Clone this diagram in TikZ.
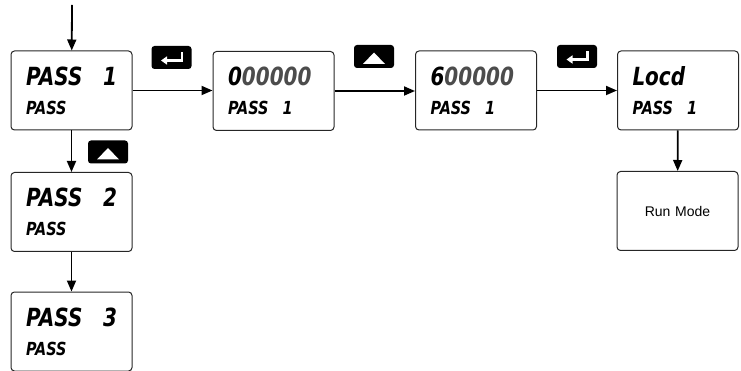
\documentclass[tikz,border=0pt]{standalone}
\usepackage{xcolor}
\usepackage{fontspec}
\setmainfont{Liberation Sans}
\newfontfamily\lcdfont{DejaVu Sans}[FakeStretch=0.8]
\usepackage{tikz}
\usetikzlibrary{arrows.meta, positioning, calc}

\newcommand{\lcdbig}{\lcdfont\bfseries\itshape\fontsize{25}{29}\selectfont}
\newcommand{\lcdsmall}{\lcdfont\bfseries\itshape\fontsize{18}{29}\selectfont}
\definecolor{segoff}{gray}{0.3}

\tikzset{
    screen/.style={draw=black!85, line width=1pt, rounded corners=3.5pt,
        minimum width=121pt, minimum height=79pt, text width=91pt,
        align=left, inner sep=0pt, font=\lcdsmall},
    keybox/.style={fill=black, rounded corners=3pt, minimum width=40pt,
        minimum height=23pt, inner sep=0pt},
    flow/.style={line width=1.8pt, -{Triangle[length=11pt,width=9pt]}},
    keysym/.style={white, line width=2.4pt},
}

\begin{document}
\begin{tikzpicture}[x=1pt, y=-1pt]
    \useasboundingbox (0,0) rectangle (741,371);
    \coordinate (start) at (72,5);
    \node[screen] (pass1) at (71.5,90.5) {{\lcdbig PASS\hfill 1}\\PASS};
    \node[screen] (pass2) at (71.5,212) {{\lcdbig PASS\hfill 2}\\PASS};
    \node[screen] (pass3) at (71.5,331.5) {{\lcdbig PASS\hfill 3}\\PASS};
    \node[screen] (code0) at (273.5,91) {{\lcdbig 0\textcolor{segoff}{00000}}\\PASS\hspace{14pt}1};
    \node[screen] (code6) at (476,90.5) {{\lcdbig 6\textcolor{segoff}{00000}}\\PASS\hspace{14pt}1};
    \node[screen] (locd) at (678,90.5) {{\lcdbig Locd}\\PASS\hspace{14pt}1};
    \node[screen, align=center, text width=110pt, font=\fontsize{14}{16}\selectfont] (run) at (677.5,211) {Run Mode};
    \node[keybox] (key1) at (171.5,57.5) {};
    \node[keybox] (key2) at (374,56.5) {};
    \node[keybox] (key3) at (577,56.5) {};
    \node[keybox] (key4) at (108,152) {};
    \draw[keysym, -{Triangle[length=6pt,width=8pt]}] ([shift={(10.5,-5)}]key1.center) -- ++(0,8) -- ++(-21,0);
    \draw[keysym, -{Triangle[length=6pt,width=8pt]}] ([shift={(10.5,-5)}]key3.center) -- ++(0,8) -- ++(-21,0);
    \fill[white] ([shift={(0,-4)}]key2.center) -- ++(11,11.5) -- ++(-22,0) -- cycle;
    \fill[white] ([shift={(0,-4)}]key4.center) -- ++(11,11.5) -- ++(-22,0) -- cycle;
    \draw[flow] (start) -- (pass1);
    \draw[flow] (pass1) -- (pass2);
    \draw[flow] (pass2) -- (pass3);
    \draw[flow] (pass1.east) -- (code0.west |- pass1.east);
    \draw[flow] (code0.east) -- (code6.west |- code0.east);
    \draw[flow] (code6.east) -- (locd.west |- code6.east);
    \draw[flow] (locd) -- (run);
\end{tikzpicture}
\end{document}
